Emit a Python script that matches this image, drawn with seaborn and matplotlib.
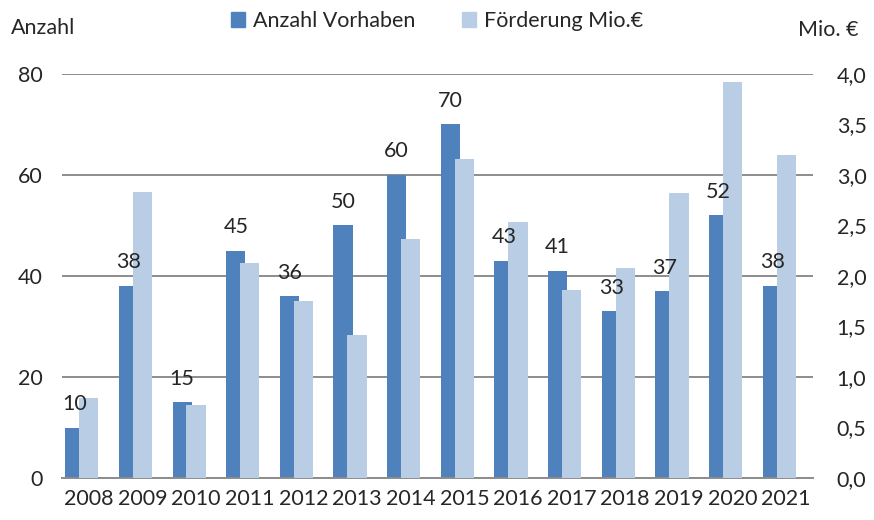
import numpy as np
import pandas as pd
import matplotlib
matplotlib.use("Agg")
import matplotlib.pyplot as plt
from matplotlib.patches import Patch
from matplotlib.ticker import FuncFormatter, MultipleLocator
import seaborn as sns

# Daten
jahre = [2008, 2009, 2010, 2011, 2012, 2013, 2014, 2015, 2016, 2017, 2018, 2019, 2020, 2021]
anzahl = [10, 38, 15, 45, 36, 50, 60, 70, 43, 41, 33, 37, 52, 38]
foerderung = [0.79, 2.83, 0.72, 2.13, 1.75, 1.42, 2.37, 3.16, 2.53, 1.86, 2.08, 2.82, 3.92, 3.20]

dunkel = "#4F81BD"
hell = "#B9CDE5"
grau = "#8C8C8C"
fs = 15.5

sns.set_style("white")
plt.rcParams['font.family'] = ['Lato', 'DejaVu Sans']
plt.rcParams['font.size'] = fs

df = pd.DataFrame({"Jahr": jahre, "Anzahl": anzahl, "Foerderung": foerderung})
df["pos_a"] = np.arange(len(df)) - 0.26
df["pos_f"] = np.arange(len(df)) + 0.0

fig = plt.figure(figsize=(8.74, 5.2), dpi=100)
ax = fig.add_axes([62 / 874, 42 / 520, 751 / 874, 404 / 520])
ax2 = ax.twinx()

sns.barplot(data=df, x="pos_a", y="Anzahl", native_scale=True, orient="x", width=0.36,
            color=dunkel, saturation=1, errorbar=None, linewidth=0, ax=ax)
sns.barplot(data=df, x="pos_f", y="Foerderung", native_scale=True, orient="x", width=0.36,
            color=hell, saturation=1, errorbar=None, linewidth=0, ax=ax2)

ax.set_xlim(-0.5, len(df) - 0.5)
ax.set_ylim(0, 80)
ax2.set_ylim(0, 4)
ax.yaxis.set_major_locator(MultipleLocator(20))
ax2.yaxis.set_major_locator(MultipleLocator(0.5))
ax2.yaxis.set_major_formatter(FuncFormatter(lambda v, p: f"{v:.1f}".replace(".", ",")))

ax.set_xticks(np.arange(len(df)))
ax.set_xticklabels([str(j) for j in jahre])
ax.set_xticks(np.arange(-0.5, len(df), 1), minor=True)
ax.tick_params(axis="x", which="major", length=0, pad=8, labelsize=fs)
ax.tick_params(axis="x", which="minor", length=6, width=1.4, color=grau)
ax.tick_params(axis="y", length=0, pad=14, labelsize=fs)
ax2.tick_params(axis="y", length=0, pad=17, labelsize=fs)

ax.set_xlabel("")
ax.set_ylabel("")
ax2.set_xlabel("")
ax2.set_ylabel("")

ax.set_axisbelow(True)
ax.yaxis.grid(True, color=grau, linewidth=1.4)
ax.xaxis.grid(False)
for s in ["left", "right", "top"]:
    ax.spines[s].set_visible(False)
for s in ax2.spines.values():
    s.set_visible(False)
ax.spines["bottom"].set_color(grau)
ax.spines["bottom"].set_linewidth(1.4)

# Beschriftungen über den dunklen Balken
for x, v in zip(df["pos_a"], df["Anzahl"]):
    ax2.annotate(str(v), xy=(x, v), xycoords=ax.transData, xytext=(0, 17),
                 textcoords="offset points", ha="center", va="center", fontsize=fs)

fig.text(11 / 874, 1 - 28 / 520, "Anzahl", ha="left", va="center", fontsize=fs)
fig.text(858 / 874, 1 - 30 / 520, "Mio. €", ha="right", va="center", fontsize=fs)

handles = [Patch(color=dunkel, label="Anzahl Vorhaben"), Patch(color=hell, label="Förderung Mio.€")]
fig.legend(handles=handles, loc="center", bbox_to_anchor=(0.5, 1 - 21 / 520), ncol=2,
           frameon=False, handlelength=0.65, handleheight=0.65, handletextpad=0.35,
           columnspacing=2.2, fontsize=fs)

fig.savefig("out.png", dpi=100)
